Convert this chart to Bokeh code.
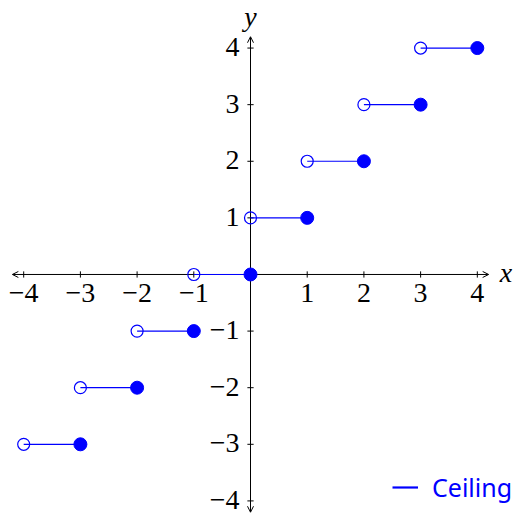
from bokeh.plotting import figure
from bokeh.models import Arrow, OpenHead, Label, Legend, LegendItem, Range1d
from bokeh.embed import file_html
from bokeh.resources import INLINE

# Ceiling function: each step covers (left, right] at height value
step_left = [-4, -3, -2, -1, 0, 1, 2, 3]
step_right = [-3, -2, -1, 0, 1, 2, 3, 4]
step_value = [-3, -2, -1, 0, 1, 2, 3, 4]

x_ticks = [-4, -3, -2, -1, 1, 2, 3, 4]
x_tick_labels = ["−4", "−3", "−2", "−1", "1", "2", "3", "4"]
y_ticks = [-4, -3, -2, -1, 1, 2, 3, 4]
y_tick_labels = ["−4", "−3", "−2", "−1", "1", "2", "3", "4"]

axis_min, axis_max = -4.2, 4.2
BLUE = "#0000ff"
SERIF = "Liberation Serif"
FONT_SIZE = "28px"

p = figure(width=516, height=514, output_backend="svg", toolbar_location=None,
           x_axis_location=None, y_axis_location=None, min_border=0,
           x_range=Range1d(-4.409, 4.691), y_range=Range1d(-4.24, 4.84))
p.grid.visible = False
p.outline_line_color = None

# Axes through the origin with open arrow heads at both ends
for xs, ys, xe, ye in [(axis_min, 0, axis_max, 0), (0, axis_min, 0, axis_max)]:
    p.add_layout(Arrow(x_start=xs, y_start=ys, x_end=xe, y_end=ye,
                       line_color="black", line_width=1, level="underlay",
                       start=OpenHead(size=6, line_width=1, line_color="black"),
                       end=OpenHead(size=6, line_width=1, line_color="black")))

# Tick marks crossing each axis
p.segment(x0=x_ticks, x1=x_ticks, y0=[-0.055] * len(x_ticks), y1=[0.055] * len(x_ticks),
          line_color="black", line_width=1)
p.segment(x0=[-0.055] * len(y_ticks), x1=[0.055] * len(y_ticks), y0=y_ticks, y1=y_ticks,
          line_color="black", line_width=1)

# Tick labels
for t, lab in zip(x_ticks, x_tick_labels):
    p.add_layout(Label(x=t, y=0, text=lab, y_offset=-10, text_align="center",
                       text_baseline="top", text_font=SERIF,
                       text_font_size=FONT_SIZE, text_color="black"))
for t, lab in zip(y_ticks, y_tick_labels):
    p.add_layout(Label(x=0, y=t, text=lab, x_offset=-11, y_offset=1, text_align="right",
                       text_baseline="middle", text_font=SERIF,
                       text_font_size=FONT_SIZE, text_color="black"))

# Axis names
p.add_layout(Label(x=axis_max, y=0, text="x", x_offset=11, y_offset=2,
                   text_baseline="middle", text_align="left", text_font=SERIF,
                   text_font_style="italic", text_font_size=FONT_SIZE, text_color="black"))
p.add_layout(Label(x=0, y=axis_max, text="y", y_offset=20, text_baseline="middle",
                   text_align="center", text_font=SERIF, text_font_style="italic",
                   text_font_size=FONT_SIZE, text_color="black"))

# Steps: segment, open end on the left, closed end on the right
steps = p.segment(x0=step_left, x1=step_right, y0=step_value, y1=step_value,
                  line_color=BLUE, line_width=1.2)
p.scatter(x=step_left, y=step_value, size=12, marker="circle",
          line_color=BLUE, line_width=1.2, fill_color=None)
p.scatter(x=step_right, y=step_value, size=13, marker="circle",
          line_color=BLUE, fill_color=BLUE)

legend_line = p.line(x=[0, 0], y=[0, 0], line_color=BLUE, line_width=2.2, visible=False)
legend = Legend(items=[LegendItem(label="Ceiling", renderers=[legend_line])],
                location=(392, 10), padding=0, margin=0, spacing=0,
                glyph_width=26, glyph_height=30, label_height=30, label_standoff=14,
                label_text_color=BLUE, label_text_font="Noto Sans",
                label_text_font_size="25px", background_fill_alpha=0,
                border_line_color=None)
p.add_layout(legend, "center")

open("out.html", "w").write(file_html(p, INLINE))
